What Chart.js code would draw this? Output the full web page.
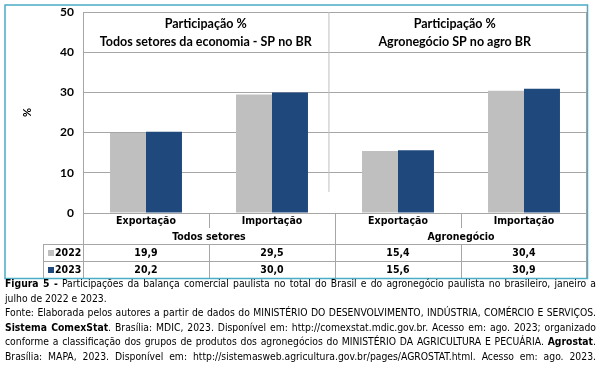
<!DOCTYPE html>
<html>
<head>
<meta charset="utf-8">
<script src="https://cdn.jsdelivr.net/npm/chart.js@4.4.1/dist/chart.umd.min.js"></script>
<style>
  body { margin: 0; background: #fff; }
  #wrap { position: relative; width: 603px; height: 386px; }
  #grafico { position: absolute; left: 0; top: 0; }
  #legenda {
    position: absolute; left: 5px; top: 276px; width: 591px;
    font-family: "DejaVu Sans Condensed", "DejaVu Sans", sans-serif;
    font-size: 10.3px; line-height: 14.5px; color: #000;
  }
  #legenda div { text-align: justify; text-align-last: justify; white-space: nowrap; }
  #legenda div.curta { text-align-last: left; }
</style>
</head>
<body>
<div id="wrap">
  <canvas id="grafico" width="603" height="282"></canvas>
  <div id="legenda">
    <div><b>Figura 5 -</b> Participações da balança comercial paulista no total do Brasil e do agronegócio paulista no brasileiro, janeiro a</div>
    <div class="curta">julho de 2022 e 2023.</div>
    <div>Fonte: Elaborada pelos autores a partir de dados do MINISTÉRIO DO DESENVOLVIMENTO, INDÚSTRIA, COMÉRCIO E SERVIÇOS.</div>
    <div><b>Sistema ComexStat</b>. Brasília: MDIC, 2023. Disponível em: http://comexstat.mdic.gov.br. Acesso em: ago. 2023; organizado</div>
    <div>conforme a classificação dos grupos de produtos dos agronegócios do MINISTÉRIO DA AGRICULTURA E PECUÁRIA. <b>Agrostat</b>.</div>
    <div>Brasília: MAPA, 2023. Disponível em: http://sistemasweb.agricultura.gov.br/pages/AGROSTAT.html. Acesso em: ago. 2023.</div>
  </div>
</div>
<script>
// dados
const categorias = ['Exportação', 'Importação', 'Exportação', 'Importação'];
const grupos = ['Todos setores', 'Agronegócio'];
const anos = ['2022', '2023'];
const valores2022 = [19.9, 29.5, 15.4, 30.4];
const valores2023 = [20.2, 30.0, 15.6, 30.9];
const titulos = [
  ['Participação %', 'Todos setores da economia - SP no BR'],
  ['Participação %', 'Agronegócio SP no agro BR']
];
const yMin = 0, yMax = 50, yPasso = 10;

const cores = ['#BFBFBF', '#1F497D'];
const corGrade = '#A6A6A6';
const fonteTabela = 'bold 10.5px "DejaVu Sans Condensed", "DejaVu Sans", sans-serif';

function fmt(v) {
  return v.toFixed(1).replace('.', ',');
}

// divisória e títulos dos painéis
const paineis = {
  id: 'paineis',
  beforeDatasetsDraw(chart) {
    const { ctx, chartArea: a } = chart;
    const xm = a.left + (a.right - a.left) * 0.487;
    ctx.save();
    ctx.strokeStyle = '#BFBFBF';
    ctx.lineWidth = 1;
    ctx.beginPath();
    ctx.moveTo(xm + 0.5, a.top);
    ctx.lineTo(xm + 0.5, a.top + (a.bottom - a.top) * 0.895);
    ctx.stroke();
    ctx.fillStyle = '#000';
    ctx.font = 'bold 12.5px Lato, sans-serif';
    ctx.textAlign = 'center';
    ctx.textBaseline = 'middle';
    const centros = [(a.left + xm) / 2, (xm + a.right) / 2 - 3];
    titulos.forEach((t, i) => {
      ctx.fillText(t[0], centros[i], a.top + 12);
      ctx.fillText(t[1], centros[i], a.top + 30);
    });
    ctx.restore();
  }
};

// tabela de dados abaixo do eixo
const tabela = {
  id: 'tabela',
  afterDraw(chart) {
    const { ctx, chartArea: a, scales: { x } } = chart;
    const b = a.bottom;
    const lim = i => x.getPixelForValue(i - 0.5);
    const yLinha1 = b + 31, yLinha2 = b + 48, yFim = b + 65;
    const xLeg = 43;
    ctx.save();
    ctx.strokeStyle = corGrade;
    ctx.lineWidth = 1;
    const linha = (x1, y1, x2, y2) => {
      ctx.beginPath();
      ctx.moveTo(x1, y1);
      ctx.lineTo(x2, y2);
      ctx.stroke();
    };
    // borda direita da área do gráfico
    linha(a.right - 0.5, a.top, a.right - 0.5, yFim);
    linha(a.left + 0.5, b, a.left + 0.5, yFim);
    // separadores das categorias
    for (let i = 1; i < categorias.length; i++) {
      const xs = Math.round(lim(i)) + 0.5;
      if (i % 2 === 0) {
        linha(xs, b, xs, yFim);
      } else {
        linha(xs, b, xs, b + 15);
        linha(xs, yLinha1, xs, yFim);
      }
    }
    // linhas horizontais
    [yLinha1, yLinha2, yFim].forEach(y => linha(xLeg, y + 0.5, a.right, y + 0.5));
    linha(xLeg + 0.5, yLinha1, xLeg + 0.5, yFim);

    ctx.fillStyle = '#000';
    ctx.font = fonteTabela;
    ctx.textAlign = 'center';
    ctx.textBaseline = 'middle';
    categorias.forEach((c, i) => ctx.fillText(c, x.getPixelForValue(i), b + 8));
    grupos.forEach((g, i) => {
      const xc = (lim(i * 2) + lim(i * 2 + 2)) / 2;
      ctx.fillText(g, xc, b + 24);
    });
    const series = [valores2022, valores2023];
    series.forEach((s, j) => {
      const yc = (j === 0 ? yLinha1 : yLinha2) + 9;
      s.forEach((v, i) => {
        ctx.fillStyle = '#000';
        ctx.textAlign = 'center';
        ctx.fillText(fmt(v), x.getPixelForValue(i), yc);
      });
      ctx.fillStyle = cores[j];
      ctx.fillRect(xLeg + 5, yc - 3, 6, 6);
      ctx.fillStyle = '#000';
      ctx.textAlign = 'left';
      ctx.fillText(anos[j], xLeg + 12, yc);
    });

    // moldura externa
    ctx.strokeStyle = '#4BACC6';
    ctx.lineWidth = 1.5;
    ctx.strokeRect(5, 5, a.right - 5 + 0.5, yFim - 5 + 0.5);
    ctx.restore();
  }
};

new Chart(document.getElementById('grafico'), {
  type: 'bar',
  data: {
    labels: categorias,
    datasets: [
      { label: anos[0], data: valores2022, backgroundColor: cores[0] },
      { label: anos[1], data: valores2023, backgroundColor: cores[1] }
    ]
  },
  options: {
    responsive: false,
    animation: false,
    layout: { padding: { top: 12, right: 16, bottom: 69, left: 0 } },
    datasets: { bar: { categoryPercentage: 0.571, barPercentage: 1.0 } },
    plugins: {
      legend: { display: false },
      tooltip: { enabled: false }
    },
    scales: {
      x: {
        grid: { display: false },
        border: { display: false },
        ticks: { display: false },
        afterFit(scale) { scale.height = 0; }
      },
      y: {
        min: yMin,
        max: yMax,
        afterFit(scale) {
          scale.width = 83;
          scale.paddingTop = 0;
          scale.paddingBottom = 0;
        },
        ticks: {
          stepSize: yPasso,
          padding: 9,
          color: '#000',
          font: { family: 'Lato', weight: 'bold', size: 12 }
        },
        grid: { color: corGrade, drawTicks: false },
        border: { color: corGrade },
        title: {
          display: true,
          text: '%',
          color: '#000',
          padding: { top: 21 },
          font: { family: 'Lato', weight: 'bold', size: 11 }
        }
      }
    }
  },
  plugins: [paineis, tabela]
});
</script>
</body>
</html>
